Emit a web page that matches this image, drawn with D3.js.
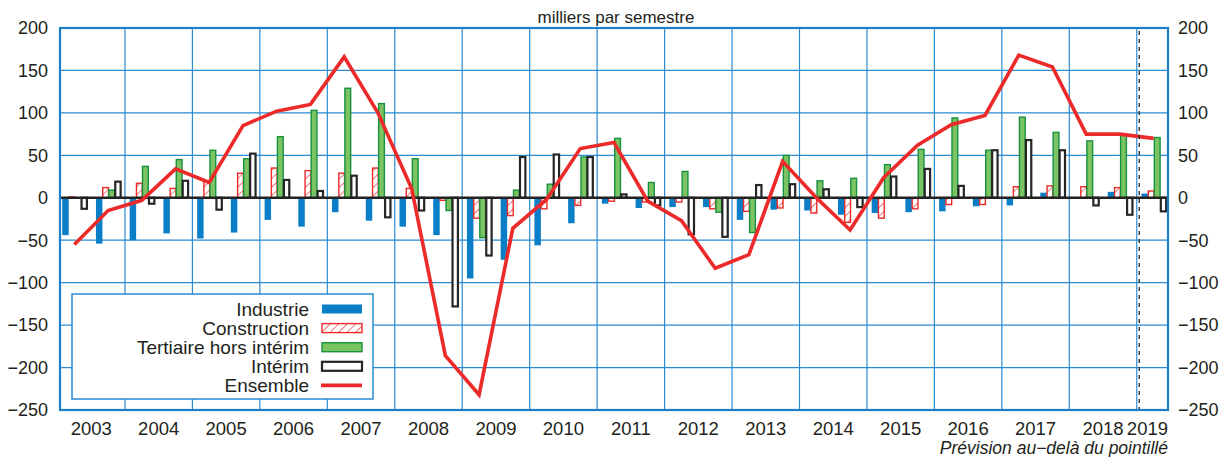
<!DOCTYPE html>
<html>
<head>
<meta charset="utf-8">
<script src="https://cdn.jsdelivr.net/npm/d3@7"></script>
<style>
body{margin:0;background:#fff}
text{font-family:"Liberation Sans",Arial,sans-serif;fill:#231f20}
</style>
</head>
<body>
<svg id="chart" width="1227" height="457"></svg>
<script>
// milliers par semestre, 2003 S1 -> 2019 S1
var years = [2003,2004,2005,2006,2007,2008,2009,2010,2011,2012,2013,2014,2015,2016,2017,2018,2019]
var industrie    = [-44,-54, -50,-42, -48,-41, -26,-34, -17,-27, -34,-44, -95,-73, -56,-30, -7,-12, -11,-11, -26,-14, -15,-20, -18,-17, -16,-10, -9,6, 1,7, 5]
var construction = [1,12, 17,11, 20,29, 35,32, 29,35, 11,-3, -24,-21, -13,-9, -4,-5, -5,-13, -16,-12, -18,-29, -24,-13, -8,-8, 13,14, 13,12, 8]
var tertiaire    = [0,9, 37,45, 56,46, 72,103, 129,111, 46,-15, -47,9, 16,48, 70,18, 31,-17, -41,50, 20,23, 39,57, 94,56, 95,77, 67,74, 71]
var interim      = [-13,19, -7,20, -14,52, 21,8, 26,-23, -15,-128, -68,48, 51,48, 4,-9, -43,-46, 15,16, 10,-11, 25,34, 14,56, 68,56, -9,-20, -16]
var ensemble     = [-55,-15, -3,34, 18,85, 102,110, 166,100, 11,-186, -232,-36, -2,58, 65,-4, -27,-83, -67,43, 0,-38, 24,62, 86,97, 168,154, 75,75, 70]
var yTicks = [200,150,100,50,0,-50,-100,-150,-200,-250]
var forecastStart = 32   // index du premier semestre prévu

var semesters = industrie.map((d,i)=>years[Math.floor(i/2)]+"-S"+(i%2+1))
var seriesNames = ["Industrie","Construction","Tertiaire hors intérim","Intérim"]
var seriesData = [industrie,construction,tertiaire,interim]

var svg = d3.select("#chart")
var pLeft=60, pRight=1168, pTop=28, pBottom=410
var blue="#2a8bd3", red="#ec2a2a"

var xt = d3.scaleLinear().domain([0,semesters.length]).range([57.5,1170.5])
var x = d3.scaleBand().domain(semesters).range(xt.range()).paddingInner(0.28).paddingOuter(0.14)
var xs = d3.scaleBand().domain(seriesNames).range([0,x.bandwidth()])
var y = d3.scaleLinear().domain([-250,200]).range([pBottom,pTop])

var defs = svg.append("defs")
defs.append("pattern")
    .attr("id","hatch")
    .attr("patternUnits","userSpaceOnUse")
    .attr("width",6).attr("height",6)
    .attr("patternTransform","rotate(45)")
  .append("line")
    .attr("x1",0).attr("y1",0).attr("x2",0).attr("y2",6)
    .attr("stroke",red).attr("stroke-width",1.3)
defs.append("clipPath").attr("id","plot")
  .append("rect").attr("x",pLeft).attr("y",pTop).attr("width",pRight-pLeft).attr("height",pBottom-pTop)

// grille
var grid = svg.append("g").attr("stroke",blue).attr("stroke-width",1.2)
grid.selectAll(".hg").data(yTicks).enter().append("line")
    .attr("x1",pLeft).attr("x2",pRight)
    .attr("y1",d=>y(d)).attr("y2",d=>y(d))
grid.selectAll(".vg").data(d3.range(1,years.length)).enter().append("line")
    .attr("x1",d=>xt(2*d)).attr("x2",d=>xt(2*d))
    .attr("y1",pTop).attr("y2",pBottom)

// barres
var styles = [
  {fill:"#0a7ec6",stroke:"none",sw:0},
  {fill:"url(#hatch)",stroke:red,sw:1.4},
  {fill:"#7cc463",stroke:"#16923f",sw:1.4},
  {fill:"#fff",stroke:"#262626",sw:2.2}
]
var bars = svg.append("g").attr("clip-path","url(#plot)")
seriesData.forEach((vals,k)=>{
  var st = styles[k]
  bars.append("g").selectAll("rect")
    .data(vals)
    .enter()
    .append("rect")
    .attr("x",(d,i)=>x(semesters[i])+xs(seriesNames[k])+st.sw/2)
    .attr("width",xs.bandwidth()-st.sw/2+0.4)
    .attr("y",d=>y(Math.max(0,d)))
    .attr("height",d=>Math.abs(y(d)-y(0)))
    .attr("fill",st.fill)
    .attr("stroke",st.stroke)
    .attr("stroke-width",st.sw)
})

svg.append("line")
   .attr("x1",pLeft).attr("x2",pRight).attr("y1",y(0)).attr("y2",y(0))
   .attr("stroke","#222").attr("stroke-width",2.4)

// ensemble
var line = d3.line()
  .x((d,i)=>x(semesters[i])+x.bandwidth()/2)
  .y(d=>y(d))
svg.append("path")
   .datum(ensemble)
   .attr("d",line)
   .attr("fill","none")
   .attr("stroke",red)
   .attr("stroke-width",3.6)
   .attr("stroke-linejoin","miter")

// pointillé prévision
svg.append("line")
   .attr("x1",xt(forecastStart)+2.5).attr("x2",xt(forecastStart)+2.5)
   .attr("y1",pTop+3).attr("y2",pBottom)
   .attr("stroke","#333").attr("stroke-width",1.4)
   .attr("stroke-dasharray","4,4")

svg.append("rect")
   .attr("x",pLeft).attr("y",pTop).attr("width",pRight-pLeft).attr("height",pBottom-pTop)
   .attr("fill","none").attr("stroke","#1d7fc8").attr("stroke-width",2.2)

// axes
svg.append("g").selectAll("text").data(yTicks).enter().append("text")
   .attr("x",48).attr("y",d=>y(d)).attr("dy","0.35em")
   .attr("text-anchor","end").attr("font-size",18)
   .text(d=>d<0?"\u2212"+(-d):d)
svg.append("g").selectAll("text").data(yTicks).enter().append("text")
   .attr("x",1178).attr("y",d=>y(d)).attr("dy","0.35em")
   .attr("text-anchor","start").attr("font-size",18)
   .text(d=>d<0?"\u2212"+(-d):d)
svg.append("g").selectAll("text").data(years).enter().append("text")
   .attr("x",(d,i)=>i<years.length-1?xt(2*i+1):pRight)
   .attr("y",434.5)
   .attr("text-anchor",(d,i)=>i<years.length-1?"middle":"end")
   .attr("font-size",18.5)
   .text(d=>d)

svg.append("text")
   .attr("x",616).attr("y",23)
   .attr("text-anchor","middle").attr("font-size",17)
   .text("milliers par semestre")
svg.append("text")
   .attr("x",pRight).attr("y",454)
   .attr("text-anchor","end").attr("font-size",17.5).attr("font-style","italic")
   .text("Prévision au\u2212delà du pointillé")

// légende
var lg = svg.append("g")
lg.append("rect")
  .attr("x",72).attr("y",294).attr("width",301).attr("height",105)
  .attr("fill","#fff").attr("stroke",blue).attr("stroke-width",1.5)
var legendNames = seriesNames.concat(["Ensemble"])
legendNames.forEach((name,k)=>{
  var cy = 309+k*19.1
  lg.append("text")
    .attr("x",309).attr("y",cy).attr("dy","0.35em")
    .attr("text-anchor","end").attr("font-size",19)
    .text(name)
  if(k<4){
    var st = styles[k]
    lg.append("rect")
      .attr("x",322).attr("y",cy-4.5).attr("width",40).attr("height",9)
      .attr("fill",st.fill).attr("stroke",st.stroke).attr("stroke-width",st.sw)
  } else {
    lg.append("line")
      .attr("x1",321).attr("x2",362).attr("y1",cy).attr("y2",cy)
      .attr("stroke",red).attr("stroke-width",3.6)
  }
})
</script>
</body>
</html>
